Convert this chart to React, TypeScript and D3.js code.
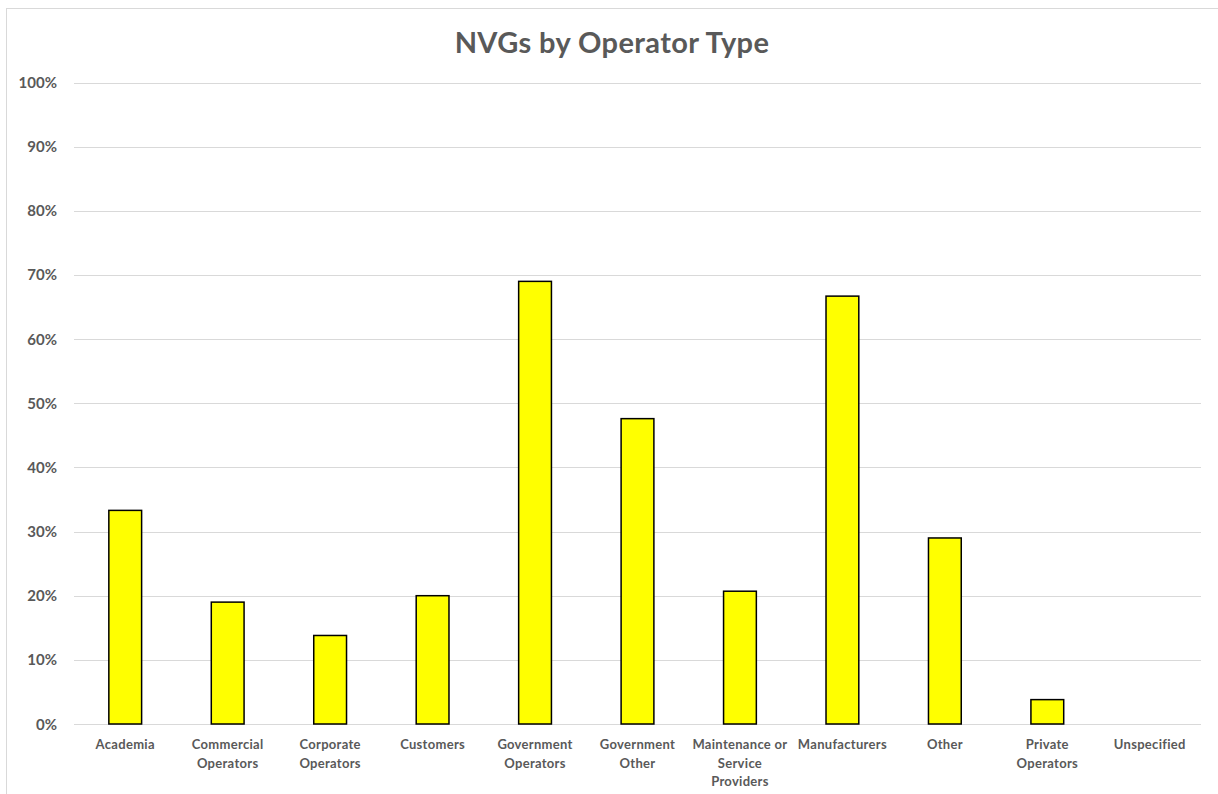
import * as d3 from "d3";
import React, { useEffect, useRef } from "react";

const categories = [
  "Academia",
  "Commercial Operators",
  "Corporate Operators",
  "Customers",
  "Government Operators",
  "Government Other",
  "Maintenance or Service Providers",
  "Manufacturers",
  "Other",
  "Private Operators",
  "Unspecified",
];

// how each category label wraps under its bar
const tickLabels = [
  ["Academia"],
  ["Commercial", "Operators"],
  ["Corporate", "Operators"],
  ["Customers"],
  ["Government", "Operators"],
  ["Government", "Other"],
  ["Maintenance or", "Service", "Providers"],
  ["Manufacturers"],
  ["Other"],
  ["Private", "Operators"],
  ["Unspecified"],
];

const shares = [0.333, 0.19, 0.138, 0.2, 0.69, 0.476, 0.207, 0.667, 0.29, 0.038, 0];

const yTicks = [0, 0.1, 0.2, 0.3, 0.4, 0.5, 0.6, 0.7, 0.8, 0.9, 1];

const NvgChart = () => {
  const svgRef = useRef<SVGSVGElement>(null);

  useEffect(() => {
    const width = 1218;
    const height = 794;
    const margin = { top: 82.5, right: 17, bottom: 70, left: 74 };
    const font = "Lato, 'Open Sans', sans-serif";
    const grey = "#595959";

    const svg = d3.select(svgRef.current);
    svg.selectAll("*").remove();
    svg.attr("width", width).attr("height", height);

    // chart frame
    svg
      .append("rect")
      .attr("x", 6.5)
      .attr("y", 8.5)
      .attr("width", width + 20)
      .attr("height", height + 20)
      .attr("fill", "#fff")
      .attr("stroke", "#d9d9d9");

    const x = d3
      .scaleBand<string>()
      .domain(categories)
      .range([margin.left, width - margin.right])
      .paddingInner(0.68)
      .paddingOuter(0.34);

    const y = d3
      .scaleLinear()
      .domain([0, 1])
      .range([height - margin.bottom, margin.top]);

    // title
    svg
      .append("text")
      .attr("x", 612)
      .attr("y", 53)
      .attr("text-anchor", "middle")
      .style("font-family", font)
      .style("font-weight", "bold")
      .style("font-size", "29px")
      .style("letter-spacing", "0.4px")
      .style("fill", grey)
      .text("NVGs by Operator Type");

    // gridlines
    svg
      .selectAll("line.grid")
      .data(yTicks)
      .enter()
      .append("line")
      .attr("class", "grid")
      .attr("x1", margin.left)
      .attr("x2", width - margin.right)
      .attr("y1", (d) => Math.round(y(d)) + 0.5)
      .attr("y2", (d) => Math.round(y(d)) + 0.5)
      .attr("stroke", "#d9d9d9")
      .attr("stroke-width", 1.2);

    // y tick labels
    svg
      .selectAll("text.ytick")
      .data(yTicks)
      .enter()
      .append("text")
      .attr("class", "ytick")
      .attr("x", 57)
      .attr("y", (d) => y(d) + 5.5)
      .attr("text-anchor", "end")
      .style("font-family", font)
      .style("font-weight", "bold")
      .style("font-size", "15px")
      .style("fill", grey)
      .text((d) => d3.format(".0%")(d));

    // bars
    svg
      .selectAll("rect.bar")
      .data(shares.map((v, i) => ({ name: categories[i], v })).filter((d) => d.v > 0))
      .enter()
      .append("rect")
      .attr("class", "bar")
      .attr("x", (d) => x(d.name)!)
      .attr("y", (d) => y(d.v))
      .attr("width", x.bandwidth())
      .attr("height", (d) => y(0) - y(d.v))
      .attr("fill", "#ffff00")
      .attr("stroke", "#000")
      .attr("stroke-width", 1.5);

    // category labels
    const labelGroup = svg
      .selectAll("text.xtick")
      .data(categories)
      .enter()
      .append("text")
      .attr("class", "xtick")
      .attr("x", (d) => x(d)! + x.bandwidth() / 2)
      .attr("y", 749)
      .attr("text-anchor", "middle")
      .style("font-family", font)
      .style("font-weight", "bold")
      .style("font-size", "13px")
      .style("letter-spacing", "0.3px")
      .style("fill", grey);

    labelGroup
      .selectAll("tspan")
      .data((d, i) => tickLabels[i])
      .enter()
      .append("tspan")
      .attr("x", function () {
        return (this.parentNode as SVGTextElement).getAttribute("x");
      })
      .attr("dy", (d, i) => (i === 0 ? 0 : 18.5))
      .text((d) => d);
  }, []);

  return (
    <svg
      ref={svgRef}
      style={{ position: "absolute", left: 0, top: 0, background: "#fff" }}
    ></svg>
  );
};

const App = () => <NvgChart />;

export default App;
